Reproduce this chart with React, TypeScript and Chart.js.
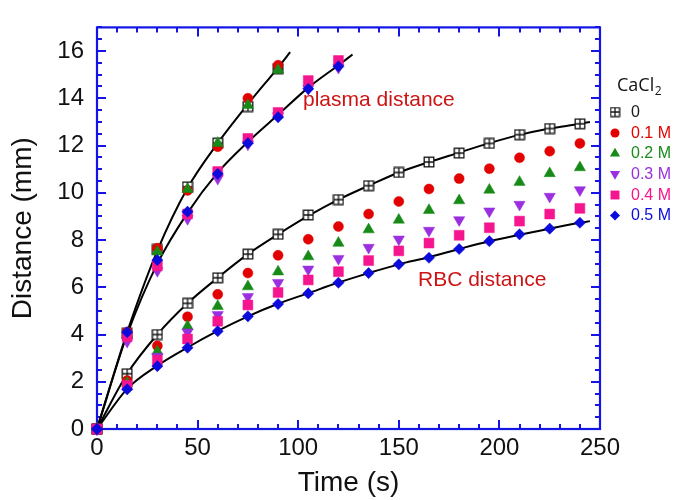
import React, { useEffect, useRef } from 'react';
import { Chart, registerables } from 'chart.js';
Chart.register(...registerables);

// ---------- data ----------
const TIME_RBC = [0, 15, 30, 45, 60, 75, 90, 105, 120, 135, 150, 165, 180, 195, 210, 225, 240];
const RBC_00 = [0, 2.34, 4.0, 5.32, 6.4, 7.4, 8.24, 9.06, 9.71, 10.3, 10.86, 11.3, 11.68, 12.09, 12.46, 12.72, 12.92];
const RBC_01 = [0, 2.05, 3.52, 4.75, 5.7, 6.6, 7.35, 8.03, 8.57, 9.1, 9.63, 10.16, 10.6, 11.02, 11.48, 11.76, 12.09];
const RBC_02 = [0, 1.95, 3.28, 4.35, 5.2, 6.03, 6.66, 7.3, 7.87, 8.44, 8.85, 9.26, 9.67, 10.12, 10.45, 10.82, 11.07];
const RBC_03 = [0, 1.85, 3.07, 4.1, 4.84, 5.6, 6.19, 6.76, 7.21, 7.68, 8.03, 8.4, 8.85, 9.22, 9.5, 9.84, 10.12];
const RBC_04 = [0, 1.85, 2.91, 3.81, 4.56, 5.25, 5.78, 6.31, 6.66, 7.13, 7.54, 7.87, 8.2, 8.52, 8.8, 9.1, 9.34];
const RBC_05 = [0, 1.68, 2.66, 3.44, 4.14, 4.77, 5.29, 5.74, 6.19, 6.6, 6.97, 7.25, 7.62, 7.95, 8.24, 8.48, 8.73];

const TIME_PLASMA_A = [0, 15, 30, 45, 60, 75, 90];
const PLASMA_00 = [0, 4.05, 7.6, 10.25, 12.1, 13.65, 15.25];
const PLASMA_01 = [0, 4.1, 7.65, 10.1, 11.95, 14.0, 15.4];
const PLASMA_02 = [0, 4.0, 7.5, 10.15, 12.1, 13.7, 15.2];
const TIME_PLASMA_B = [0, 15, 30, 45, 60, 75, 90, 105, 120];
const PLASMA_03 = [0, 3.7, 6.7, 8.9, 10.6, 12.05, 13.25, 14.4, 15.3];
const PLASMA_04 = [0, 3.9, 6.9, 9.1, 10.9, 12.3, 13.4, 14.75, 15.6];
const PLASMA_05 = [0, 4.1, 7.15, 9.2, 10.8, 12.1, 13.2, 14.4, 15.35];

// fit curves
const FIT_PLASMA_A_T = [0, 15, 30, 45, 60, 75, 90, 96];
const FIT_PLASMA_A_Y = [0, 4.1, 7.55, 10.2, 12.1, 13.75, 15.3, 15.95];
const FIT_PLASMA_B_T = [0, 15, 30, 45, 60, 75, 90, 105, 120, 127];
const FIT_PLASMA_B_Y = [0, 4.0, 7.0, 9.15, 10.85, 12.15, 13.3, 14.45, 15.4, 15.85];
const FIT_RBC_TOP_T = [0, 15, 30, 45, 60, 75, 90, 105, 120, 135, 150, 165, 180, 195, 210, 225, 240, 245];
const FIT_RBC_TOP_Y = [0, 2.34, 4.0, 5.32, 6.4, 7.4, 8.24, 9.02, 9.71, 10.3, 10.86, 11.3, 11.7, 12.1, 12.45, 12.72, 12.92, 13.0];
const FIT_RBC_BOT_T = [0, 15, 30, 45, 60, 75, 90, 105, 120, 135, 150, 165, 180, 195, 210, 225, 240, 245];
const FIT_RBC_BOT_Y = [0, 1.7, 2.68, 3.45, 4.15, 4.77, 5.3, 5.75, 6.2, 6.6, 6.97, 7.27, 7.62, 7.95, 8.22, 8.48, 8.73, 8.8];

const SERIES_LABELS = ['0', '0.1 M', '0.2 M', '0.3 M', '0.4 M', '0.5 M'];
const Y_TICK_VALUES = [0, 2, 4, 6, 8, 10, 12, 14, 16];
const X_TICK_VALUES = [0, 50, 100, 150, 200, 250];

const COLORS = ['#111111', '#e30000', '#178a17', '#9a2fe0', '#f5158e', '#0b0bdc'];
const TEXT_COLORS = ['#1a1a1a', '#e30000', '#178a17', '#9a2fe0', '#f5158e', '#0b0bdc'];
const AXIS_BLUE = '#1414e6';
const NOTE_RED = '#cc1414';

function pts(t: number[], y: number[]) {
  return t.map((x, i) => ({ x, y: y[i] }));
}

function makeBoxPlus(): HTMLCanvasElement {
  const c = document.createElement('canvas');
  c.width = 12;
  c.height = 12;
  const g = c.getContext('2d')!;
  g.fillStyle = '#ffffff';
  g.fillRect(1, 1, 10, 10);
  g.strokeStyle = '#111';
  g.lineWidth = 1.3;
  g.strokeRect(1.2, 1.2, 9.6, 9.6);
  g.beginPath();
  g.moveTo(6, 1);
  g.lineTo(6, 11);
  g.moveTo(1, 6);
  g.lineTo(11, 6);
  g.stroke();
  return c;
}

export default function App() {
  const ref = useRef<HTMLCanvasElement>(null);
  useEffect(() => {
    const boxPlus = makeBoxPlus();
    const styles: any[] = [
      { pointStyle: boxPlus, radius: 6, rotation: 0 },
      { pointStyle: 'circle', radius: 5, rotation: 0 },
      { pointStyle: 'triangle', radius: 6.5, rotation: 0 },
      { pointStyle: 'triangle', radius: 6.5, rotation: 180 },
      { pointStyle: 'rect', radius: 7, rotation: 0 },
      { pointStyle: 'rectRot', radius: 5.6, rotation: 0 },
    ];
    const rbc = [RBC_00, RBC_01, RBC_02, RBC_03, RBC_04, RBC_05];
    const plasma = [PLASMA_00, PLASMA_01, PLASMA_02, PLASMA_03, PLASMA_04, PLASMA_05];
    const plasmaT = [TIME_PLASMA_A, TIME_PLASMA_A, TIME_PLASMA_A, TIME_PLASMA_B, TIME_PLASMA_B, TIME_PLASMA_B];

    const markerSets = rbc.map((r, i) => ({
      type: 'scatter' as const,
      label: SERIES_LABELS[i],
      data: [...pts(TIME_RBC, r), ...pts(plasmaT[i], plasma[i])],
      showLine: false,
      pointStyle: styles[i].pointStyle,
      pointRadius: styles[i].radius,
      pointRotation: styles[i].rotation,
      backgroundColor: COLORS[i],
      borderColor: COLORS[i],
      borderWidth: 0,
      pointBorderWidth: i === 0 ? 0 : 0.5,
      clip: false,
      order: 20 - i,
    }));

    const fitSet = (t: number[], y: number[]) => ({
      type: 'line' as const,
      label: 'fit',
      data: pts(t, y),
      borderColor: '#000',
      borderWidth: 2,
      pointRadius: 0,
      fill: false,
      cubicInterpolationMode: 'monotone' as const,
      clip: false,
      order: 50,
    });

    const fits = [
      fitSet(FIT_PLASMA_A_T, FIT_PLASMA_A_Y),
      fitSet(FIT_PLASMA_B_T, FIT_PLASMA_B_Y),
      fitSet(FIT_RBC_TOP_T, FIT_RBC_TOP_Y),
      fitSet(FIT_RBC_BOT_T, FIT_RBC_BOT_Y),
    ];

    function drawMarker(ctx: CanvasRenderingContext2D, style: string, r: number, rot: number, x: number, y: number) {
      ctx.beginPath();
      if (style === 'circle') {
        ctx.arc(x, y, r, 0, Math.PI * 2);
      } else if (style === 'triangle') {
        let rad = (rot * Math.PI) / 180;
        ctx.moveTo(x + Math.sin(rad) * r, y - Math.cos(rad) * r);
        rad += (2 * Math.PI) / 3;
        ctx.lineTo(x + Math.sin(rad) * r, y - Math.cos(rad) * r);
        rad += (2 * Math.PI) / 3;
        ctx.lineTo(x + Math.sin(rad) * r, y - Math.cos(rad) * r);
        ctx.closePath();
      } else if (style === 'rect') {
        const s = Math.SQRT1_2 * r;
        ctx.rect(x - s, y - s, 2 * s, 2 * s);
      } else if (style === 'rectRot') {
        ctx.moveTo(x, y - r);
        ctx.lineTo(x + r, y);
        ctx.lineTo(x, y + r);
        ctx.lineTo(x - r, y);
        ctx.closePath();
      }
      ctx.fill();
    }

    const framePlugin = {
      id: 'frame',
      beforeDatasetsDraw(chart: any) {
        const { ctx, chartArea: a, scales } = chart;
        const xs = scales.x;
        const ys = scales.y;
        ctx.save();
        ctx.strokeStyle = AXIS_BLUE;
        ctx.lineWidth = 2.2;
        ctx.strokeRect(a.left, a.top, a.right - a.left, a.bottom - a.top);
        ctx.lineWidth = 2;
        ctx.beginPath();
        for (let v = 0; v <= 250 + 1e-6; v += 10) {
          const px = Math.round(xs.getPixelForValue(v));
          const len = v % 50 === 0 ? 9 : 5;
          ctx.moveTo(px, a.bottom);
          ctx.lineTo(px, a.bottom - len);
          ctx.moveTo(px, a.top);
          ctx.lineTo(px, a.top + len);
        }
        for (let v = 0; v <= 17 + 1e-6; v += 0.5) {
          const py = Math.round(ys.getPixelForValue(v));
          const len = Math.abs(v % 2) < 1e-6 ? 9 : 5;
          ctx.moveTo(a.left, py);
          ctx.lineTo(a.left + len, py);
          ctx.moveTo(a.right, py);
          ctx.lineTo(a.right - len, py);
        }
        ctx.stroke();
        ctx.restore();
      },
      afterDraw(chart: any) {
        const { ctx } = chart;
        ctx.save();
        ctx.fillStyle = NOTE_RED;
        ctx.font = '21px "Liberation Sans", Arial, sans-serif';
        ctx.textBaseline = 'middle';
        ctx.textAlign = 'left';
        ctx.fillText('plasma distance', 303, 100);
        ctx.fillText('RBC distance', 418, 280);
        ctx.fillStyle = '#111';
        ctx.font = '18px "Open Sans", "Noto Sans", sans-serif';
        ctx.fillText('CaCl', 617, 86);
        const w = ctx.measureText('CaCl').width;
        ctx.font = '12px "Open Sans", "Noto Sans", sans-serif';
        ctx.fillText('2', 617 + w + 0.5, 92);
        const ys = [112, 133, 153.5, 174, 195, 215.5];
        ctx.font = '16px "Liberation Sans", Arial, sans-serif';
        for (let i = 0; i < 6; i++) {
          const y = ys[i];
          const st = styles[i];
          ctx.fillStyle = COLORS[i];
          if (i === 0) {
            ctx.drawImage(boxPlus, 615 - 5.5, y - 5.5, 11, 11);
          } else {
            drawMarker(ctx, st.pointStyle, st.radius * 0.9, st.rotation, 615, y);
          }
          ctx.fillStyle = TEXT_COLORS[i];
          ctx.fillText(SERIES_LABELS[i], 631, y + 0.5);
        }
        ctx.restore();
      },
    };

    const chart = new Chart(ref.current!, {
      type: 'scatter',
      data: { datasets: [...markerSets, ...fits] as any },
      options: {
        animation: false,
        responsive: false,
        devicePixelRatio: 1,
        layout: { padding: { left: 0, top: 14, right: 73, bottom: 0 } },
        plugins: { legend: { display: false }, tooltip: { enabled: false } },
        scales: {
          x: {
            type: 'linear',
            min: 0,
            max: 250,
            grid: { display: false, drawTicks: false },
            border: { display: false },
            afterBuildTicks: (s: any) => {
              s.ticks = X_TICK_VALUES.map((v) => ({ value: v }));
            },
            ticks: {
              color: '#111',
              padding: 5,
              maxRotation: 0,
              autoSkip: false,
              font: { family: '"Liberation Sans", Arial, sans-serif', size: 24 },
            },
            title: {
              display: true,
              text: 'Time (s)',
              color: '#111',
              padding: { top: 0, bottom: 0 },
              font: { family: '"Liberation Sans", Arial, sans-serif', size: 28 },
            },
            afterFit: (s: any) => {
              s.height = 71;
            },
          },
          y: {
            type: 'linear',
            min: 0,
            max: 17,
            grid: { display: false, drawTicks: false },
            border: { display: false },
            afterBuildTicks: (s: any) => {
              s.ticks = Y_TICK_VALUES.map((v) => ({ value: v }));
            },
            ticks: {
              color: '#111',
              padding: 13,
              autoSkip: false,
              font: { family: '"Liberation Sans", Arial, sans-serif', size: 24 },
            },
            title: {
              display: true,
              text: 'Distance (mm)',
              color: '#111',
              padding: { top: 6, bottom: 0 },
              font: { family: '"Liberation Sans", Arial, sans-serif', size: 28 },
            },
            afterFit: (s: any) => {
              s.width = 97;
            },
          },
        },
      },
      plugins: [framePlugin],
    });
    return () => chart.destroy();
  }, []);

  return (
    <div style={{ position: 'fixed', left: 0, top: 0, width: 673, height: 500, background: '#fff' }}>
      <canvas ref={ref} width={673} height={500} style={{ display: 'block' }} />
    </div>
  );
}
